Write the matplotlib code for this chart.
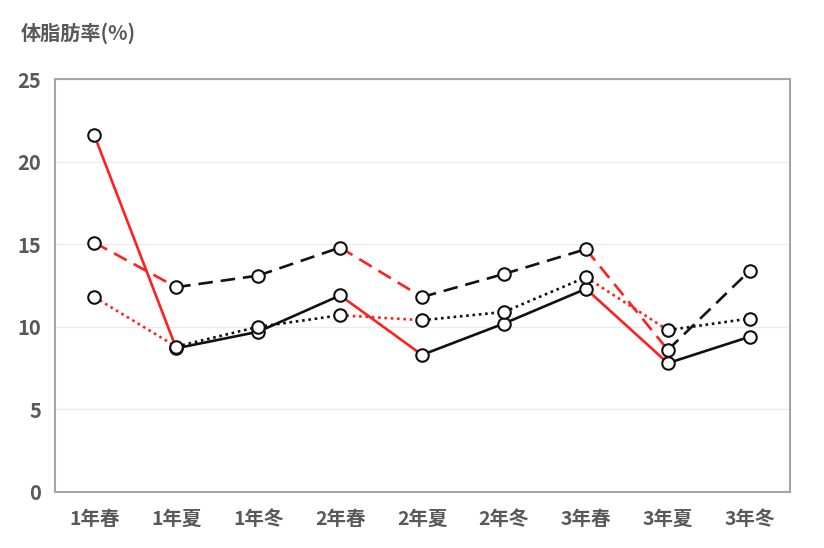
import numpy as np
import matplotlib
matplotlib.use('Agg')
import matplotlib.pyplot as plt

plt.rcParams['font.family'] = ['Noto Sans CJK JP', 'DejaVu Sans']

seasons = ['1年春', '1年夏', '1年冬', '2年春', '2年夏', '2年冬', '3年春', '3年夏', '3年冬']
solid_vals = [21.6, 8.7, 9.7, 11.9, 8.3, 10.2, 12.3, 7.8, 9.4]
dashed_vals = [15.1, 12.4, 13.1, 14.8, 11.8, 13.2, 14.7, 8.6, 13.4]
dotted_vals = [11.8, 8.8, 10.0, 10.7, 10.4, 10.9, 13.0, 9.8, 10.5]

series = [
    (solid_vals, '-'),
    (dashed_vals, (0, (5.5, 3))),
    (dotted_vals, (0, (1, 1.4))),
]

fig = plt.figure(figsize=(8.24, 5.48), dpi=100)
ax = fig.add_axes([0.0667, 0.1022, 0.892, 0.7536])

x = np.arange(len(seasons))
for vals, ls in series:
    # falling segments red, rising segments black
    for i in range(len(vals) - 1):
        col = '#ff2020' if vals[i + 1] < vals[i] else '#111111'
        ax.plot(x[i:i + 2], vals[i:i + 2], color=col, linestyle=ls, lw=1.9,
                zorder=2, solid_capstyle='butt')
for vals, ls in series:
    ax.plot(x, vals, linestyle='none', marker='o', markersize=9,
            markerfacecolor='white', markeredgecolor='#111111',
            markeredgewidth=1.5, zorder=3)

ax.set_xlim(-0.48, 8.49)
ax.set_ylim(0, 25)
ax.set_yticks([0, 5, 10, 15, 20, 25])
ax.set_xticks(x)
ax.set_xticklabels(seasons)
ax.yaxis.grid(True, color='#ebebeb', lw=1)
ax.set_axisbelow(True)
for s in ax.spines.values():
    s.set_color('#a6a6a6')
    s.set_linewidth(1.5)
ax.tick_params(length=0, labelcolor='#595959')
ax.tick_params(axis='y', pad=10, labelsize=14.5)
ax.tick_params(axis='x', pad=13, labelsize=14)
for t in ax.get_xticklabels() + ax.get_yticklabels():
    t.set_fontweight('bold')

fig.text(0.025, 0.94, '体脂肪率(%)', fontsize=14.5, fontweight='bold',
         color='#595959', ha='left', va='center')

fig.savefig('out.png', dpi=100)
